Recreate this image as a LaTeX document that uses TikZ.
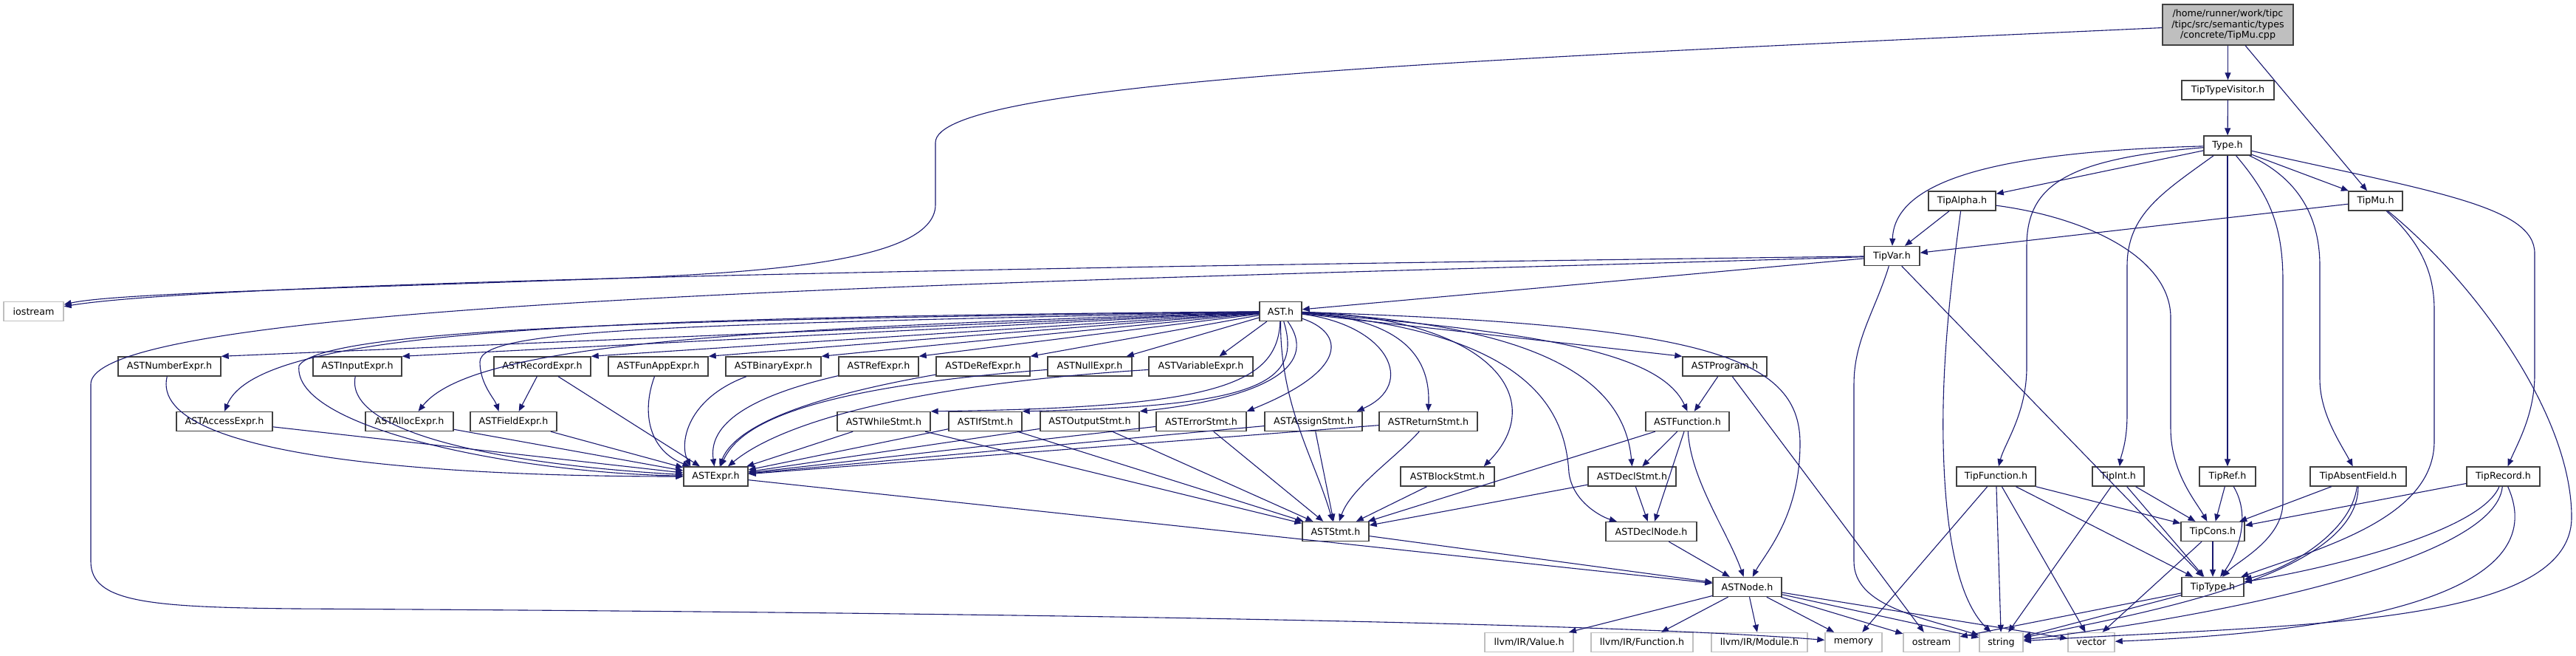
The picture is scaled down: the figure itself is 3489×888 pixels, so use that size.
\documentclass[tikz,border=0pt]{standalone}
\usepackage{fontspec}
\setmainfont{DejaVu Sans}
\usetikzlibrary{arrows.meta}
\definecolor{edgeblue}{HTML}{191970}
\definecolor{boxgray}{HTML}{BFBFBF}
\definecolor{boxborder}{HTML}{404040}
\begin{document}
\begin{tikzpicture}[x=1pt,y=-1pt,
  box/.style={draw=boxborder,line width=1.4pt,fill=white,inner sep=0pt,minimum height=26pt,font=\fontsize{12.7}{14.7}\selectfont},
  sysbox/.style={draw=boxgray,line width=1.4pt,fill=white,inner sep=0pt,minimum height=26pt,font=\fontsize{12.7}{14.7}\selectfont},
  edge/.style={draw=edgeblue,line width=1.1pt,-{Triangle[length=10pt,width=8pt]},fill=none},
  ]
\useasboundingbox (0,0) rectangle (3489,888);
% ---------- nodes ----------
\node[box,fill=boxgray,minimum width=177pt,minimum height=55pt,align=center] (main) at (3017.5,33.5) {/home/runner/work/tipc\\/tipc/src/semantic/types\\/concrete/TipMu.cpp};
\node[box,minimum width=125pt] (TTV) at (3017.5,122) {TipTypeVisitor.h};
\node[box,minimum width=64pt] (Type) at (3017,197) {Type.h};
\node[box,minimum width=73pt] (TipMu) at (3217.5,272) {TipMu.h};
\node[box,minimum width=91pt] (TipAlpha) at (2657.5,272) {TipAlpha.h};
\node[box,minimum width=75pt] (TipVar) at (2562.5,346.5) {TipVar.h};
\node[sysbox,minimum width=81pt] (iostream) at (45.5,421.5) {iostream};
\node[box,minimum width=57pt] (AST) at (1734.5,421.5) {AST.h};
% row 1
\node[box,minimum width=139pt] (NumberExpr) at (229.5,496) {ASTNumberExpr.h};
\node[box,minimum width=120pt] (InputExpr) at (484,496) {ASTInputExpr.h};
\node[box,minimum width=131pt] (RecordExpr) at (734.5,496) {ASTRecordExpr.h};
\node[box,minimum width=135pt] (FunAppExpr) at (891.5,496) {ASTFunAppExpr.h};
\node[box,minimum width=129pt] (BinaryExpr) at (1047.5,496) {ASTBinaryExpr.h};
\node[box,minimum width=108pt] (RefExpr) at (1190,496) {ASTRefExpr.h};
\node[box,minimum width=127pt] (DeRefExpr) at (1331.5,496) {ASTDeRefExpr.h};
\node[box,minimum width=114pt] (NullExpr) at (1476,496) {ASTNullExpr.h};
\node[box,minimum width=141pt] (VariableExpr) at (1626.5,496) {ASTVariableExpr.h};
\node[box,minimum width=114pt] (Program) at (2336,496) {ASTProgram.h};
% row 2
\node[box,minimum width=130pt] (AccessExpr) at (304,570.5) {ASTAccessExpr.h};
\node[box,minimum width=119pt] (AllocExpr) at (554.5,570.5) {ASTAllocExpr.h};
\node[box,minimum width=117pt] (FieldExpr) at (695.5,570.5) {ASTFieldExpr.h};
\node[box,minimum width=126pt] (WhileStmt) at (1197,570.5) {ASTWhileStmt.h};
\node[box,minimum width=99pt] (IfStmt) at (1334.5,570.5) {ASTIfStmt.h};
\node[box,minimum width=134pt] (OutputStmt) at (1476,570.5) {ASTOutputStmt.h};
\node[box,minimum width=122pt] (ErrorStmt) at (1627,570.5) {ASTErrorStmt.h};
\node[box,minimum width=132pt] (AssignStmt) at (1779,570.5) {ASTAssignStmt.h};
\node[box,minimum width=133pt] (ReturnStmt) at (1934.5,570.5) {ASTReturnStmt.h};
\node[box,minimum width=113pt] (ASTFunction) at (2285.5,570.5) {ASTFunction.h};
% row 3
\node[box,minimum width=87pt] (ASTExpr) at (969.5,645) {ASTExpr.h};
\node[box,minimum width=127pt] (BlockStmt) at (1960.5,645) {ASTBlockStmt.h};
\node[box,minimum width=119pt] (DeclStmt) at (2210.5,645) {ASTDeclStmt.h};
\node[box,minimum width=107pt] (TipFunction) at (2703.5,645) {TipFunction.h};
\node[box,minimum width=70pt] (TipInt) at (2869,645) {TipInt.h};
\node[box,minimum width=76pt] (TipRef) at (3017,645) {TipRef.h};
\node[box,minimum width=130pt] (TipAbsent) at (3194,645) {TipAbsentField.h};
\node[box,minimum width=99pt] (TipRecord) at (3390.5,645) {TipRecord.h};
% row 4
\node[box,minimum width=90pt] (ASTStmt) at (1809,719.5) {ASTStmt.h};
\node[box,minimum width=123pt] (DeclNode) at (2236.5,719.5) {ASTDeclNode.h};
\node[box,minimum width=86pt] (TipCons) at (2997,719.5) {TipCons.h};
% row 5
\node[box,minimum width=93pt] (ASTNode) at (2366.5,794.5) {ASTNode.h};
\node[box,minimum width=84pt] (TipType) at (2997,794.5) {TipType.h};
% row 6
\node[sysbox,minimum width=120pt] (llvmValue) at (2071,869.5) {llvm/IR/Value.h};
\node[sysbox,minimum width=138pt] (llvmFunction) at (2224,869.5) {llvm/IR/Function.h};
\node[sysbox,minimum width=130pt] (llvmModule) at (2383,869.5) {llvm/IR/Module.h};
\node[sysbox,minimum width=77pt] (memory) at (2510.5,869.5) {memory};
\node[sysbox,minimum width=76pt] (ostream) at (2616,869.5) {ostream};
\node[sysbox,minimum width=59pt] (string) at (2710.5,869.5) {string};
\node[sysbox,minimum width=63pt] (vector) at (2832.5,869.5) {vector};
% ---------- edges ----------
% main file
\draw[edge] (main) .. controls (2000,80) and (1267,110) .. (1267,193) -- (1267,277) .. controls (1267,360) and (1000,372) .. (740,380) .. controls (400,392) and (150,398) .. (iostream);
\draw[edge] (main) -- (TTV);
\draw[edge] (main) -- (TipMu);
\draw[edge] (TTV) -- (Type);
% Type.h
\draw[edge] (Type) .. controls (2720,205) and (2566,240) .. (TipVar);
\draw[edge] (Type) -- (TipAlpha);
\draw[edge] (Type) .. controls (2800,215) and (2745,250) .. (2745,333) -- (2745,497) .. controls (2745,560) and (2715,600) .. (TipFunction);
\draw[edge] (Type) .. controls (2930,260) and (2881,290) .. (2881,360) -- (2881,560) .. controls (2881,600) and (2873,615) .. (TipInt);
\draw[edge] (Type) -- (TipRef);
\draw[edge] (Type) .. controls (3070,260) and (3092,300) .. (3092,380) -- (3092,680) .. controls (3092,730) and (3030,760) .. (TipType);
\draw[edge] (Type) .. controls (3110,240) and (3142,290) .. (3142,360) -- (3142,513) .. controls (3142,560) and (3170,600) .. (TipAbsent);
\draw[edge] (Type) -- (TipMu);
\draw[edge] (Type) .. controls (3300,260) and (3433,280) .. (3433,343) -- (3433,507) .. controls (3433,560) and (3410,600) .. (TipRecord);
% TipMu.h
\draw[edge] (TipMu) -- (TipVar);
\draw[edge] (TipMu) .. controls (3280,330) and (3297,370) .. (3297,420) -- (3297,597) .. controls (3297,700) and (3150,740) .. (TipType);
\draw[edge] (TipMu) .. controls (3350,380) and (3483,560) .. (3483,700) .. controls (3483,850) and (3100,845) .. (string);
% TipAlpha.h
\draw[edge] (TipAlpha) -- (TipVar);
\draw[edge] (TipAlpha) .. controls (2830,295) and (2940,350) .. (2940,430) -- (2940,580) .. controls (2940,640) and (2975,680) .. (TipCons);
\draw[edge] (TipAlpha) .. controls (2640,400) and (2630,500) .. (2632,600) .. controls (2635,750) and (2660,820) .. (string);
% TipVar.h
\draw[edge] (TipVar) -- (AST);
\draw[edge] (TipVar) .. controls (1500,360) and (300,380) .. (iostream);
\draw[edge] (TipVar) .. controls (1500,380) and (123,400) .. (123,520) -- (123,760) .. controls (123,815) and (200,822) .. (400,824) .. controls (1500,830) and (2200,845) .. (memory);
\draw[edge] (TipVar) .. controls (2540,420) and (2511,460) .. (2511,520) -- (2511,760) .. controls (2511,820) and (2600,835) .. (string);
\draw[edge] (TipVar) -- (TipType);
% AST.h -> expressions row 1
\draw[edge] (AST) -- (NumberExpr.north east);
\draw[edge] (AST) -- (InputExpr.north east);
\draw[edge] (AST) -- (RecordExpr.north east);
\draw[edge] (AST) -- (FunAppExpr.north east);
\draw[edge] (AST) -- (BinaryExpr.north east);
\draw[edge] (AST) -- (RefExpr.north east);
\draw[edge] (AST) -- (DeRefExpr.north east);
\draw[edge] (AST) -- ([xshift=-8pt]NullExpr.north east);
\draw[edge] (AST) -- ([xshift=25pt]VariableExpr.north);
\draw[edge] (AST) -- (Program.north west);
% AST.h -> row 2 expressions and ASTExpr
\draw[edge] (AST) .. controls (800,430) and (350,445) .. (AccessExpr.north);
\draw[edge] (AST) .. controls (1000,445) and (640,465) .. ([xshift=12pt]AllocExpr.north);
\draw[edge] (AST) .. controls (900,440) and (650,445) .. (650,490) .. controls (650,520) and (670,540) .. ([xshift=-20pt]FieldExpr.north);
\draw[edge] (AST) .. controls (1000,432) and (440,440) .. (405,495) .. controls (395,580) and (700,640) .. (ASTExpr);
% AST.h -> statements
\draw[edge] (AST) .. controls (1730,520) and (1650,552) .. (WhileStmt.north east);
\draw[edge] (AST) .. controls (1765,520) and (1700,550) .. (IfStmt.north east);
\draw[edge] (AST) .. controls (1790,500) and (1700,540) .. (OutputStmt.north east);
\draw[edge] (AST) .. controls (1820,450) and (1830,500) .. (ErrorStmt.north east);
\draw[edge] (AST) .. controls (1880,440) and (1920,520) .. ([xshift=-8pt]AssignStmt.north east);
\draw[edge] (AST) .. controls (1880,430) and (1938,470) .. (ReturnStmt.north);
\draw[edge] (AST) .. controls (2020,430) and (2100,540) .. ([xshift=-15pt]BlockStmt.north east);
\draw[edge] (AST) .. controls (2100,440) and (2200,520) .. (DeclStmt.north);
\draw[edge] (AST) .. controls (2100,450) and (2250,480) .. (ASTFunction.north);
\draw[edge] (AST) .. controls (2300,440) and (2438,480) .. (2438,600) .. controls (2438,700) and (2390,750) .. (ASTNode);
\draw[edge] (AST) .. controls (2080,450) and (2120,560) .. (2125,640) .. controls (2130,680) and (2170,700) .. (DeclNode);
\draw[edge] (AST) .. controls (1734,550) and (1780,620) .. (ASTStmt);
% expressions -> ASTExpr
\draw[edge] (NumberExpr) .. controls (200,620) and (600,645) .. (ASTExpr);
\draw[edge] (InputExpr) .. controls (465,590) and (700,630) .. (ASTExpr);
\draw[edge] (RecordExpr) -- (ASTExpr);
\draw[edge] (RecordExpr) -- (FieldExpr);
\draw[edge] (FunAppExpr) .. controls (868,560) and (880,610) .. (ASTExpr);
\draw[edge] (BinaryExpr) .. controls (930,540) and (920,600) .. ([xshift=10pt]ASTExpr.north west);
\draw[edge] (RefExpr) .. controls (1000,540) and (960,580) .. (ASTExpr);
\draw[edge] (DeRefExpr) .. controls (1050,545) and (990,590) .. (ASTExpr);
\draw[edge] (NullExpr) .. controls (1072,527) and (1000,580) .. (ASTExpr);
\draw[edge] (VariableExpr) .. controls (1244,520) and (1060,570) .. (ASTExpr);
\draw[edge] (AccessExpr) -- (ASTExpr);
\draw[edge] (AllocExpr) -- (ASTExpr);
\draw[edge] (FieldExpr) -- (ASTExpr);
% statements -> ASTExpr, ASTStmt
\draw[edge] (WhileStmt) -- (ASTExpr);
\draw[edge] (IfStmt) -- (ASTExpr);
\draw[edge] (OutputStmt) -- (ASTExpr);
\draw[edge] (ErrorStmt) -- (ASTExpr);
\draw[edge] (AssignStmt) -- (ASTExpr);
\draw[edge] (ReturnStmt) -- (ASTExpr);
\draw[edge] (WhileStmt) -- (ASTStmt);
\draw[edge] (IfStmt) -- (ASTStmt);
\draw[edge] (OutputStmt) -- (ASTStmt);
\draw[edge] (ErrorStmt) -- (ASTStmt);
\draw[edge] (AssignStmt) -- (ASTStmt);
\draw[edge] (ReturnStmt) .. controls (1890,620) and (1830,660) .. (ASTStmt);
\draw[edge] (BlockStmt) -- (ASTStmt);
\draw[edge] (DeclStmt) -- (ASTStmt);
\draw[edge] (ASTFunction) -- (ASTStmt);
% declarations / program
\draw[edge] (Program) -- (ASTFunction);
\draw[edge] (Program) -- (ostream);
\draw[edge] (ASTFunction) -- (DeclStmt);
\draw[edge] (ASTFunction) -- (DeclNode);
\draw[edge] (ASTFunction) .. controls (2290,650) and (2340,720) .. (ASTNode);
\draw[edge] (DeclStmt) -- (DeclNode);
% -> ASTNode
\draw[edge] (ASTExpr) -- (ASTNode);
\draw[edge] (ASTStmt) -- (ASTNode);
\draw[edge] (DeclNode) -- (ASTNode);
% ASTNode -> headers
\draw[edge] (ASTNode) -- (llvmValue);
\draw[edge] (ASTNode) -- (llvmFunction);
\draw[edge] (ASTNode) -- (llvmModule);
\draw[edge] (ASTNode) -- (memory);
\draw[edge] (ASTNode) -- (ostream);
\draw[edge] (ASTNode) -- (string);
\draw[edge] (ASTNode) -- (vector);
% Tip types
\draw[edge] (TipFunction) -- (TipCons);
\draw[edge] (TipFunction) -- (TipType);
\draw[edge] (TipFunction) -- (string);
\draw[edge] (TipFunction) -- (vector);
\draw[edge] (TipFunction) -- (memory);
\draw[edge] (TipInt) -- (TipCons);
\draw[edge] (TipInt) -- (TipType);
\draw[edge] (TipInt) -- (string);
\draw[edge] (TipRef) -- (TipCons);
\draw[edge] (TipRef) .. controls (3050,700) and (3030,750) .. (TipType);
\draw[edge] (TipAbsent) -- (TipCons);
\draw[edge] (TipAbsent) .. controls (3185,720) and (3100,770) .. (TipType);
\draw[edge] (TipAbsent) .. controls (3194,780) and (2900,830) .. (string);
\draw[edge] (TipRecord) -- (TipCons);
\draw[edge] (TipRecord) .. controls (3360,720) and (3150,770) .. (TipType);
\draw[edge] (TipRecord) .. controls (3380,760) and (3000,835) .. (string);
\draw[edge] (TipRecord) .. controls (3460,800) and (3200,855) .. (vector);
\draw[edge] (TipCons) -- (TipType);
\draw[edge] (TipCons) -- (vector);
\draw[edge] (TipType) -- (ostream);
\draw[edge] (TipType) -- (string);
\end{tikzpicture}
\end{document}
